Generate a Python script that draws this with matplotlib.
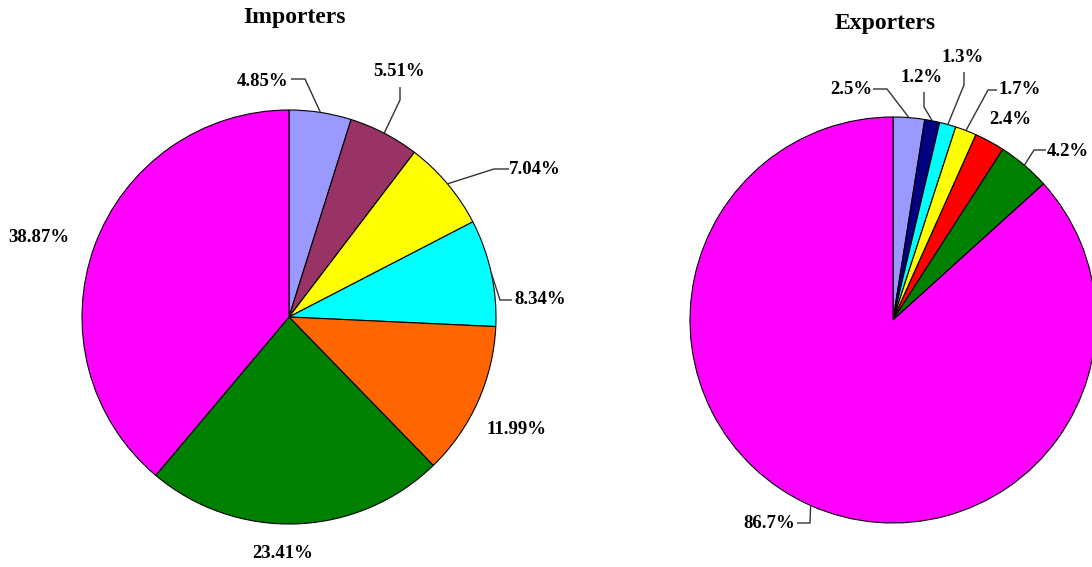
import numpy as np
import matplotlib
matplotlib.use("Agg")
import matplotlib.pyplot as plt

# ---- data ----
imp_values = [4.85, 5.51, 7.04, 8.34, 11.99, 23.41, 38.87]
imp_colors = ["#9999FF", "#993366", "#FFFF00", "#00FFFF", "#FF6600", "#008000", "#FF00FF"]
exp_values = [2.5, 1.2, 1.3, 1.7, 2.4, 4.2, 86.7]
exp_colors = ["#9999FF", "#000080", "#00FFFF", "#FFFF00", "#FF0000", "#008000", "#FF00FF"]
titles = ["Importers", "Exporters"]

# ---- layout (pixel coordinates, origin top-left) ----
W, H = 1092, 567
imp_center, imp_radius = (289, 317), 207
exp_center, exp_radius = (893, 320), 203

# label centre positions and optional leader elbows (text side point, elbow point)
imp_label_pos = [(263, 81), (399, 72), (535, 170), (540, 300), (516, 429), (283, 554), (39, 237)]
imp_leaders = [((291, 79), (305, 79)), ((400, 87), (400, 100)), ((509, 169), (494, 169)),
               ((512, 300), (500, 300)), None, None, None]
exp_label_pos = [(851, 89), (922, 77), (963, 57), (1020, 90), (1010, 119), (1068, 152), (769, 523)]
exp_leaders = [((873, 89), (887, 89)), ((924, 92), (924, 107)), ((964, 72), (964, 85)),
               ((997, 90), (988, 90)), None, ((1046, 150), (1034, 150)), ((797, 523), (810, 523))]


def fy(y):
    return H - y


fig = plt.figure(figsize=(W / 100, H / 100), dpi=100)
ax = fig.add_axes([0, 0, 1, 1])

font = dict(family="Liberation Serif", weight="bold", color="black")


def draw_pie(values, colors, center, radius, label_pos, leaders, fmt, title, title_xy):
    cx, cy = center
    ax.pie(values, colors=colors, center=(cx, fy(cy)), radius=radius,
           startangle=90, counterclock=False, normalize=True,
           wedgeprops=dict(edgecolor="black", linewidth=0.8))
    total = sum(values)
    cum = 0.0
    for v, pos, lead in zip(values, label_pos, leaders):
        mid = (cum + v / 2) / total * 2 * np.pi
        cum += v
        ax.text(pos[0], fy(pos[1]), fmt.format(v),
                ha="center", va="center", fontsize=13.5, **font)
        if lead is not None:
            # leader runs from the label, through an elbow, to the wedge's mid-arc
            ex = cx + radius * np.sin(mid)
            ey = cy - radius * np.cos(mid)
            xs = [lead[0][0], lead[1][0], ex]
            ys = [fy(lead[0][1]), fy(lead[1][1]), fy(ey)]
            ax.plot(xs, ys, color="#333333", linewidth=1.0, solid_capstyle="butt")
    ax.text(title_xy[0], fy(title_xy[1]), title, ha="center", va="center", fontsize=17, **font)


draw_pie(imp_values, imp_colors, imp_center, imp_radius, imp_label_pos, imp_leaders,
         "{:.2f}%", titles[0], (294, 18))
draw_pie(exp_values, exp_colors, exp_center, exp_radius, exp_label_pos, exp_leaders,
         "{:.1f}%", titles[1], (885, 23))

ax.set_xlim(0, W)
ax.set_ylim(0, H)
ax.set_aspect("equal")
ax.axis("off")

fig.savefig("out.png", dpi=100, facecolor="white")
